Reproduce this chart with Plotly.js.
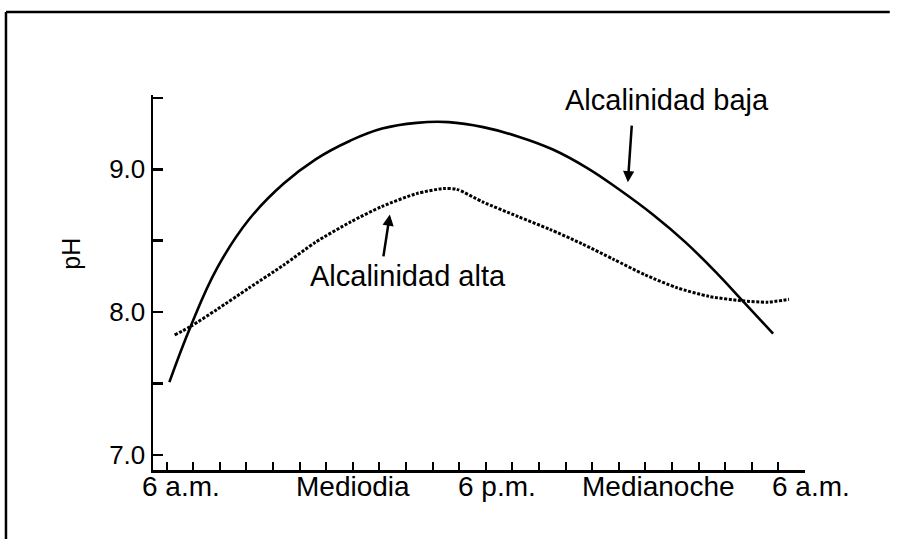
<!DOCTYPE html>
<html>
<head>
<meta charset="utf-8">
<script src="https://cdn.plot.ly/plotly-3.0.1.min.js"></script>
<style>html,body{margin:0;padding:0;background:#fff;overflow:hidden;}#chart{width:905px;height:539px;}</style>
</head>
<body>
<div id="chart"></div>
<script>
// Hours after 6 a.m. and pH values
var bajaHours = [0.1, 0.9, 1.9, 3.1, 4.4, 5.6, 6.9, 8.1, 9.4, 10.6, 11.9, 13.2, 14.5, 15.8, 17.0, 18.3, 19.5, 20.7, 21.7, 22.8];
var bajaPH    = [7.51, 7.90, 8.31, 8.65, 8.90, 9.07, 9.20, 9.285, 9.325, 9.33, 9.295, 9.23, 9.14, 9.01, 8.86, 8.68, 8.49, 8.27, 8.07, 7.85];

var altaHours = [0.3, 0.9, 1.9, 3.1, 4.4, 5.6, 6.9, 8.1, 9.4, 10.4, 10.9, 11.9, 13.2, 14.4, 15.6, 16.8, 18.0, 19.2, 20.4, 21.6, 22.6, 23.4];
var altaPH    = [7.84, 7.90, 8.02, 8.17, 8.33, 8.49, 8.63, 8.74, 8.83, 8.865, 8.86, 8.77, 8.67, 8.58, 8.48, 8.37, 8.26, 8.17, 8.11, 8.08, 8.07, 8.09];

var timeLabels   = ['6 a.m.', 'Mediodia', '6 p.m.', 'Medianoche', '6 a.m.'];
var timeLabelPos = [0.54, 7.0, 12.42, 18.5, 24.0];
var timeLabelShift = [0, 0, 0, 0, 6];

var yTickVals = [7.0, 7.5, 8.0, 8.5, 9.0, 9.5];
var yTickText = ['7.0', '', '8.0', '', '9.0', ''];

var seriesNames = ['Alcalinidad baja', 'Alcalinidad alta'];
var namePos = [[18.81, 9.484], [9.07, 8.256]];
var arrowTail = [[17.49, 9.316], [8.14, 8.38]];
var arrowHead = [[17.34, 8.909], [8.39, 8.684]];

var FONT = 'Liberation Sans, Arial, Helvetica, sans-serif';

var traces = [
  {x: bajaHours, y: bajaPH, type: 'scatter', mode: 'lines', name: seriesNames[0],
   line: {color: '#000', width: 2.6, shape: 'spline', smoothing: 1.2}},
  {x: altaHours, y: altaPH, type: 'scatter', mode: 'lines', name: seriesNames[1],
   line: {color: '#000', width: 3, dash: '3px,1.6px', shape: 'spline', smoothing: 0.7}}
];

var annotations = [];
for (var i = 0; i < timeLabels.length; i++) {
  annotations.push({x: timeLabelPos[i], xref: 'x', y: -0.045, yref: 'paper', text: timeLabels[i],
    xshift: timeLabelShift[i], showarrow: false, xanchor: 'center', yanchor: 'middle',
    font: {family: FONT, size: 28, color: '#000'}});
}
for (var j = 0; j < seriesNames.length; j++) {
  annotations.push({x: namePos[j][0], y: namePos[j][1], xref: 'x', yref: 'y', text: seriesNames[j],
    showarrow: false, xanchor: 'center', yanchor: 'middle', font: {family: FONT, size: 29, color: '#000'}});
  annotations.push({x: arrowHead[j][0], y: arrowHead[j][1], xref: 'x', yref: 'y',
    ax: arrowTail[j][0], ay: arrowTail[j][1], axref: 'x', ayref: 'y', text: '',
    showarrow: true, arrowhead: 2, arrowsize: 0.9, arrowwidth: 2.5, arrowcolor: '#000'});
}
annotations.push({x: -0.127, xref: 'paper', y: 8.41, yref: 'y', text: 'pH', textangle: -90,
  showarrow: false, xanchor: 'center', yanchor: 'middle', font: {family: FONT, size: 25, color: '#000'}});

var layout = {
  width: 905, height: 539,
  margin: {l: 153, r: 100, t: 95, b: 69, pad: 0},
  paper_bgcolor: '#fff', plot_bgcolor: '#fff',
  showlegend: false,
  xaxis: {range: [-0.515, 24], showline: true, linecolor: '#000', linewidth: 2.5,
    showgrid: false, zeroline: false, tick0: 0, dtick: 1, ticks: 'inside', ticklen: 8,
    tickwidth: 2, tickcolor: '#000', showticklabels: false, fixedrange: true},
  yaxis: {range: [6.895, 9.52], showline: true, linecolor: '#000', linewidth: 2.5,
    showgrid: false, zeroline: false, tickmode: 'array', tickvals: yTickVals, ticktext: yTickText,
    ticks: 'inside', ticklen: 10, tickwidth: 2.5, tickcolor: '#000',
    tickfont: {family: FONT, size: 26, color: '#000'}, fixedrange: true},
  annotations: annotations,
  shapes: [{type: 'line', xref: 'paper', yref: 'paper', x0: -0.2255, x1: -0.2255, y0: -0.3, y1: 1.2213,
      line: {color: '#000', width: 2.5}},
    {type: 'line', xref: 'paper', yref: 'paper', x0: -0.2255, x1: 1.13, y0: 1.2213, y1: 1.2213,
      line: {color: '#000', width: 2.5}}]
};

Plotly.newPlot('chart', traces, layout, {staticPlot: true, displayModeBar: false});
</script>
</body>
</html>
